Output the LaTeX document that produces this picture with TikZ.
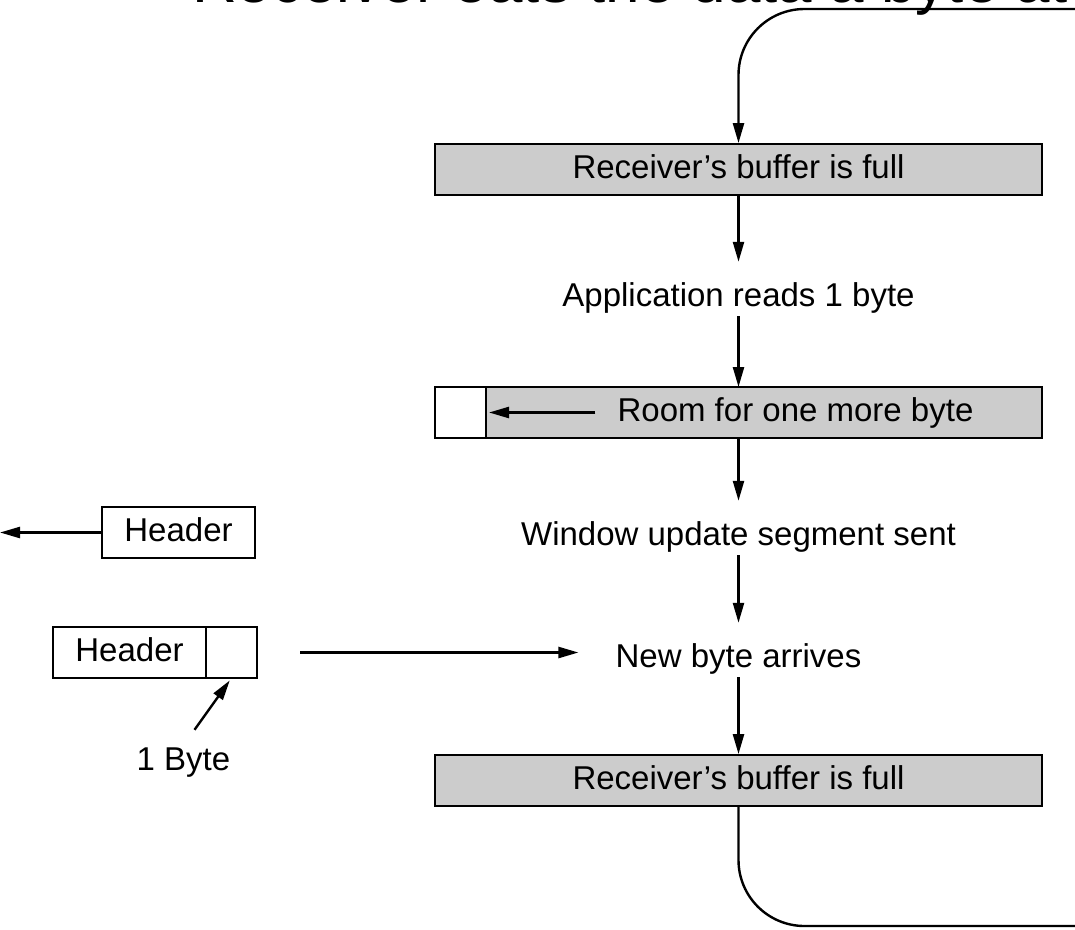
\documentclass[tikz,border=0pt]{standalone}
\usepackage{fontspec}
\setmainfont{Liberation Sans}
\usetikzlibrary{arrows.meta}

\begin{document}
\begin{tikzpicture}[x=1pt,y=-1pt,font=\fontsize{33}{40}\selectfont,
	ptr/.style={-{Triangle[length=20pt,width=11pt]},line width=2.4pt},
	totext/.style={ptr,shorten >=17pt},
	buf/.style={draw,line width=1.8pt,fill=gray!40,minimum height=51pt,inner sep=0pt,text height=24pt,text depth=7pt},
	cell/.style={draw,line width=1.8pt,fill=white,minimum height=51pt,minimum width=51pt,inner sep=0pt,outer sep=0pt},
	hdr/.style={draw,line width=1.8pt,minimum height=51pt,minimum width=153pt,inner sep=0pt,outer sep=0pt,text height=24pt,text depth=7pt},
	stage/.style={inner xsep=0pt,inner ysep=3pt,text height=24pt,text depth=7pt}]
			\useasboundingbox (0,0) rectangle (1075,929);
			\clip (0,0) rectangle (1075,929);
			% title, cut off at the top edge
			\node[anchor=base west,inner sep=0pt,font=\fontsize{62}{74}\selectfont] (title) at (192,2.5) {Receiver eats the data a byte at a time};
			% receiver side
			\node[buf,minimum width=607pt] (full1) at (738.5,169.5) {Receiver's buffer is full};
			\node[stage] (app) at (738.5,297.5) {Application reads 1 byte};
			\node[buf,minimum width=556pt,outer sep=0pt] (room) at (764,412.5) {};
			\node[cell,anchor=east] (slot1) at (room.west) {};
			\node[stage] (roomtxt) at (795.5,412.5) {Room for one more byte};
			\node[stage] (win) at (738.5,536.5) {Window update segment sent};
			\node[stage] (arr) at (738.5,658.5) {New byte arrives};
			\node[buf,minimum width=607pt] (full2) at (738.5,780.5) {Receiver's buffer is full};
			\coordinate (topin) at (1080,9);
			\coordinate (botout) at (1080,926);
			% segments
			\node[hdr] (hdr1) at (178.5,532.5) {Header};
			\coordinate (away) at (0,532.5);
			\node[hdr] (hdr2) at (129.5,652.5) {Header};
			\node[cell,anchor=west] (slot2) at (hdr2.east) {};
			\node[stage] (onebyte) at (183.5,761.5) {1 Byte};
			% arrows
			\draw[ptr,rounded corners=66pt] (topin) -| (full1.north);
			\draw[totext] (full1.south) -- (app.north);
			\draw[ptr] (app.south) -- (app.south |- room.north);
			\draw[ptr,shorten <=22pt,shorten >=3pt] (roomtxt.west) -- (slot1.east);
			\draw[totext] (app.south |- room.south) -- (win.north);
			\draw[totext] (win.south) -- (arr.north);
			\draw[ptr] (arr.south) -- (full2.north);
			\draw[line width=2.4pt,rounded corners=66pt] (full2.south) |- (botout);
			\draw[ptr] (hdr1.west) -- (away);
			\draw[ptr,shorten <=43pt,shorten >=37pt] (slot2.east) -- (slot2.east -| arr.west);
			\draw[ptr,shorten >=3pt] ([shift={(11,-13)}]onebyte.north) -- (slot2.south);
		\end{tikzpicture}
\end{document}
